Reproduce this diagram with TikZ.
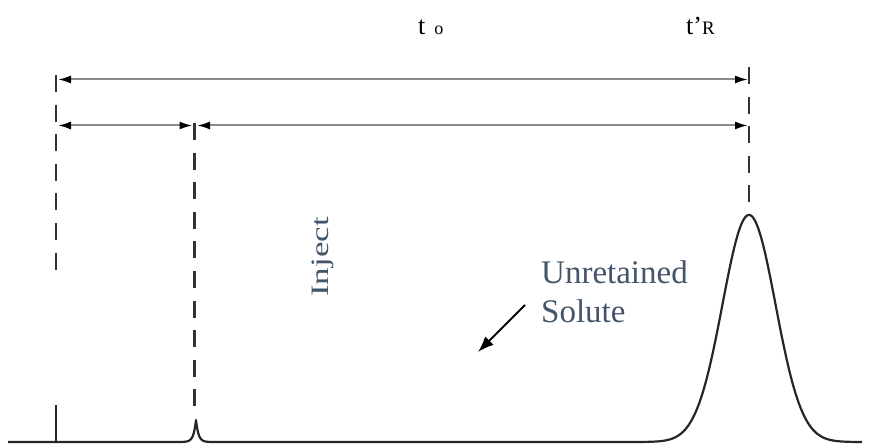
\documentclass[tikz,border=0pt]{standalone}
\usepackage{fontspec}
\setmainfont{Liberation Serif}
\usetikzlibrary{arrows.meta}
\definecolor{slate}{HTML}{44546A}
\definecolor{dimline}{HTML}{8A8A8A}
\tikzset{
  dimarrow/.style={draw=dimline, line width=2pt,
    {Latex[length=13pt,width=8pt,color=black]}-{Latex[length=13pt,width=8pt,color=black]}},
  guide/.style={draw=black!80, line width=2.6pt, dash pattern=on 17pt off 12.6pt},
  trace/.style={draw=black!85, line width=2.2pt, line join=round},
  bluetext/.style={text=slate, inner sep=0pt, font=\fontsize{33}{40}\selectfont},
  blacktext/.style={text=black, inner sep=0pt, font=\fontsize{26}{30}\selectfont},
}
\begin{document}
\begin{tikzpicture}[x=1pt,y=-1pt]
\useasboundingbox (0,0) rectangle (870,446);
% guide coordinates
\coordinate (g1top) at (56,75);
\coordinate (g1bot) at (56,270);
\coordinate (g2top) at (194.5,123);
\coordinate (g2bot) at (194.5,408);
\coordinate (g3top) at (749,67);
\coordinate (g3bot) at (749,203);
% dashed guides
\draw[guide] (g1top) -- (g1bot);
\draw[guide] (g2top) -- (g2bot);
\draw[guide] (g3top) -- (g3bot);
% dimension arrows
\coordinate (a1l) at (58,79.5);
\coordinate (a1r) at (748,79.5);
\coordinate (a2l) at (58,125.5);
\coordinate (a2m) at (192.5,125.5);
\coordinate (a3l) at (197,125.5);
\coordinate (a3r) at (748,125.5);
\draw[dimarrow] (a1l) -- (a1r);
\draw[dimarrow] (a2l) -- (a2m);
\draw[dimarrow] (a3l) -- (a3r);
% chromatogram trace
\draw[trace] (8,442) -- (182,442)
  -- plot[domain=182:210, samples=57] (\x, {442 - 22*exp(-abs(\x-196)/2.5)})
  -- (640,442)
  -- plot[domain=640:862, samples=223] (\x, {442 - 227*exp(-((\x-749)/26.5)^2/2)});
% injection tick
\coordinate (injtop) at (56,405);
\coordinate (injbot) at (56,442);
\draw[trace, line width=2pt] (injbot) -- (injtop);
% labels
\node[blacktext, anchor=base west] (t0) at (418,35)
  {t\hspace{9pt}{\fontsize{18}{20}\selectfont o}};
\node[blacktext, anchor=base west] (tR) at (686,35)
  {t’{\fontsize{19}{20}\selectfont R}};
\node[bluetext, anchor=base west, rotate=90, font=\fontsize{25}{30}\selectfont] (inj) at (328.5,297)
  {\scalebox{1.4}[1]{Inject}};
\node[bluetext, anchor=base west] (unret) at (541,284) {Unretained};
\node[bluetext, anchor=base west] (sol) at (541,323) {Solute};
% pointer arrow
\coordinate (pa) at (525,305);
\coordinate (pb) at (478,352);
\draw[black, line width=2pt, -{Latex[length=16pt,width=12pt]}] (pa) -- (pb);
\end{tikzpicture}
\end{document}
